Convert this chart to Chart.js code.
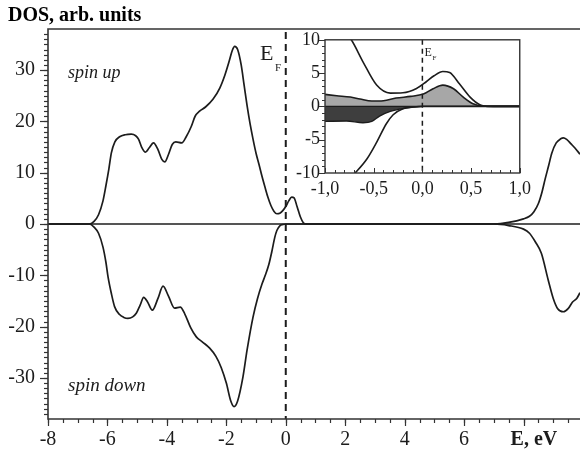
<!DOCTYPE html>
<html>
<head>
<meta charset="utf-8">
<script src="https://cdn.jsdelivr.net/npm/chart.js@4.4.0/dist/chart.umd.min.js"></script>
<style>
  html, body { margin: 0; padding: 0; background: #fff; }
  #wrap { position: relative; width: 580px; height: 459px; }
  #main { position: absolute; left: 0; top: 0; }
  #inset { position: absolute; left: 280px; top: 24px; }
</style>
</head>
<body>
<div id="wrap">
  <canvas id="main" width="580" height="459"></canvas>
  <canvas id="inset" width="256" height="181"></canvas>
</div>
<script>
// main plot: total DOS, spin up (positive) and spin down (negative)
const upEnergy = [-8, -6.6, -6.45, -6.3, -6.15, -6.05, -5.95, -5.87, -5.75, -5.59, -5.4, -5.2, -5.05, -4.95, -4.85, -4.72, -4.6, -4.45, -4.3, -4.17, -4.07, -3.95, -3.82, -3.7, -3.5, -3.35, -3.18, -3.05, -2.9, -2.7, -2.45, -2.22, -2.05, -1.9, -1.8, -1.72, -1.62, -1.5, -1.4, -1.3, -1.2, -1.1, -1.0, -0.9, -0.8, -0.7, -0.6, -0.5, -0.4, -0.3, -0.2, -0.1, 0, 0.1, 0.2, 0.28, 0.38, 0.49, 0.59, 0.7, 7.0, 7.5, 8.0, 8.2, 8.35, 8.5, 8.62, 8.72, 8.85, 8.95, 9.1, 9.25, 9.34, 9.45, 9.6, 9.73, 9.9];
const upDos    = [0, 0, 0.5, 1.8, 4.5, 7.5, 10.8, 13.8, 16, 17, 17.4, 17.5, 17.2, 16.5, 15, 14, 14.8, 15.8, 14.5, 12.6, 12.1, 13.5, 15.5, 16, 15.8, 17, 19, 21, 22, 22.8, 24.3, 26.5, 29, 31.8, 33.8, 34.6, 34, 31, 27, 23, 19.5, 16.5, 13.8, 11.6, 9.3, 7.2, 5.2, 3.6, 2.5, 2.0, 2.1, 2.6, 3.4, 4.5, 5.25, 5.1, 3.4, 1.4, 0.25, 0, 0, 0.3, 1.0, 1.5, 2.4, 4, 6.2, 8.6, 11.5, 13.8, 15.8, 16.6, 16.8, 16.5, 15.6, 14.8, 13.6];
const downEnergy = [-8, -6.6, -6.45, -6.3, -6.15, -6.05, -5.98, -5.87, -5.76, -5.6, -5.45, -5.31, -5.15, -5.03, -4.9, -4.78, -4.65, -4.49, -4.3, -4.13, -3.95, -3.74, -3.55, -3.4, -3.2, -3.01, -2.8, -2.56, -2.35, -2.17, -2.0, -1.85, -1.74, -1.62, -1.44, -1.3, -1.1, -0.95, -0.8, -0.69, -0.57, -0.47, -0.37, -0.3, -0.2, -0.09, 0, 7.0, 7.5, 8.0, 8.2, 8.4, 8.6, 8.83, 9.0, 9.15, 9.34, 9.5, 9.65, 9.79, 9.9];
const downDos    = [0, 0, -0.6, -1.8, -4.5, -7.5, -10.3, -13.5, -16.1, -17.6, -18.2, -18.4, -18.1, -17.4, -15.8, -14.3, -15.2, -16.8, -14.5, -12.1, -14, -16.4, -16.2, -17.5, -20.2, -22, -23, -24.2, -25.8, -28, -31, -34.5, -35.6, -34.5, -29.8, -24.5, -18.1, -14.5, -11.7, -10, -7.9, -5.4, -2.6, -1.26, -0.35, -0.1, 0, 0, -0.3, -1.0, -1.8, -3.5, -5.7, -10.9, -14.5, -16.5, -17.1, -16.5, -15.2, -14.5, -13.4];

const xTickValues = [-8, -6, -4, -2, 0, 2, 4, 6, 8.35];
const xTickLabels = ['-8', '-6', '-4', '-2', '0', '2', '4', '6', 'E, eV'];
const yTickValues = [-30, -20, -10, 0, 10, 20, 30];
const yTickLabels = ['-30', '-20', '-10', '0', '10', '20', '30'];

// inset: zoom around the Fermi level
const insetUpTotalE = [-1.0, -0.85, -0.73, -0.61, -0.47, -0.33, -0.2, -0.06, 0.04, 0.12, 0.21, 0.28, 0.38, 0.49, 0.59, 0.7, 1.0];
const insetUpTotal  = [14, 12, 10, 6.7, 3.2, 2.0, 2.05, 2.7, 3.7, 4.6, 5.25, 5.1, 3.4, 1.4, 0.25, 0, 0];
const insetUpPartE  = [-1.0, -0.88, -0.74, -0.64, -0.52, -0.4, -0.27, -0.12, 0.01, 0.11, 0.21, 0.32, 0.42, 0.52, 0.62, 0.73, 1.0];
const insetUpPart   = [1.8, 1.6, 1.4, 1.1, 0.8, 0.85, 1.25, 1.5, 1.85, 2.65, 3.2, 2.65, 1.4, 0.4, 0.05, 0, 0];
const insetDownPartE = [-1.0, -0.78, -0.61, -0.52, -0.44, -0.33, -0.23, -0.09, 0, 1.0];
const insetDownPart  = [-2.25, -2.2, -2.45, -2.25, -1.45, -0.75, -0.4, -0.1, 0, 0];
const insetDownTotalE = [-1.0, -0.8, -0.69, -0.57, -0.47, -0.37, -0.3, -0.2, -0.09, 0, 1.0];
const insetDownTotal  = [-14.5, -11.7, -10, -7.9, -5.4, -2.6, -1.26, -0.35, -0.1, 0, 0];

const insetXTicks = [-1, -0.5, 0, 0.5, 1];
const insetXLabels = ['-1,0', '-0,5', '0,0', '0,5', '1,0'];
const insetYTicks = [-10, -5, 0, 5, 10];
const insetYLabels = ['-10', '-5', '0', '5', '10'];

const SERIF = "'Liberation Serif', 'DejaVu Serif', serif";
const INK = '#1c1c1c';

const pts = (xs, ys) => xs.map((x, i) => ({ x: x, y: ys[i] }));

function tickRun(ctx, scale, from, to, step, len, horizontal, at) {
  const n = Math.round((to - from) / step);
  for (let k = 0; k <= n; k++) {
    const v = from + k * step;
    const p = Math.round(scale.getPixelForValue(v)) + 0.5;
    ctx.beginPath();
    if (horizontal) { ctx.moveTo(p, at); ctx.lineTo(p, at + len); }
    else { ctx.moveTo(at, p); ctx.lineTo(at + len, p); }
    ctx.stroke();
  }
}

const mainDecor = {
  id: 'mainDecor',
  beforeDatasetsDraw(chart) {
    const { ctx, chartArea: a, scales: { x, y } } = chart;
    ctx.save();
    ctx.strokeStyle = INK;
    ctx.lineWidth = 1.6;
    const y0 = y.getPixelForValue(0);
    ctx.beginPath(); ctx.moveTo(a.left, y0); ctx.lineTo(a.right, y0); ctx.stroke();
    const x0 = x.getPixelForValue(0);
    ctx.lineWidth = 2;
    ctx.setLineDash([7, 5]);
    ctx.beginPath(); ctx.moveTo(x0, a.top + 3); ctx.lineTo(x0, a.bottom); ctx.stroke();
    ctx.restore();
  },
  afterDraw(chart) {
    const { ctx, chartArea: a, scales: { x, y } } = chart;
    ctx.save();
    ctx.strokeStyle = '#333';
    ctx.lineWidth = 1.6;
    ctx.beginPath();
    ctx.moveTo(a.right, a.top); ctx.lineTo(a.left, a.top);
    ctx.lineTo(a.left, a.bottom); ctx.lineTo(a.right, a.bottom);
    ctx.stroke();
    ctx.lineWidth = 1.2;
    tickRun(ctx, x, -8, 9.5, 0.5, 4, true, a.bottom);
    tickRun(ctx, x, -8, 8, 2, 7, true, a.bottom);
    tickRun(ctx, y, -37, 37, 1, -4, false, a.left);
    tickRun(ctx, y, -30, 30, 10, -8, false, a.left);

    ctx.fillStyle = '#000';
    ctx.textBaseline = 'alphabetic';
    ctx.font = 'bold 20px ' + SERIF;
    ctx.fillText('DOS, arb. units', 8, 21);
    ctx.fillStyle = INK;
    ctx.font = 'italic 18px ' + SERIF;
    ctx.fillText('spin up', 68, 78);
    ctx.font = 'italic 19px ' + SERIF;
    ctx.fillText('spin down', 68, 391);
    ctx.font = '22px ' + SERIF;
    ctx.fillText('E', 260, 60);
    ctx.font = '11px ' + SERIF;
    ctx.fillText('F', 275, 71);
    ctx.restore();
  }
};

new Chart(document.getElementById('main'), {
  type: 'line',
  data: {
    datasets: [
      { data: pts(upEnergy, upDos), borderColor: INK, borderWidth: 1.7, pointRadius: 0, cubicInterpolationMode: 'monotone', fill: false },
      { data: pts(downEnergy, downDos), borderColor: INK, borderWidth: 1.7, pointRadius: 0, cubicInterpolationMode: 'monotone', fill: false }
    ]
  },
  options: {
    responsive: false,
    animation: false,
    devicePixelRatio: 1,
    layout: { autoPadding: false, padding: { top: 29, right: 0, left: 0, bottom: 0 } },
    plugins: { legend: { display: false }, tooltip: { enabled: false } },
    scales: {
      x: {
        type: 'linear', min: -8, max: 9.9,
        afterBuildTicks: s => { s.ticks = xTickValues.map(v => ({ value: v })); },
        afterFit: s => { s.height = 40; },
        grid: { display: false, drawTicks: false },
        border: { display: false },
        ticks: {
          padding: 9, color: INK, autoSkip: false, maxRotation: 0,
          font: c => ({ family: SERIF, size: 20, weight: c.index === xTickLabels.length - 1 ? 'bold' : 'normal' }),
          callback: (v, i) => xTickLabels[i]
        }
      },
      y: {
        type: 'linear', min: -38, max: 38,
        afterBuildTicks: s => { s.ticks = yTickValues.map(v => ({ value: v })); },
        afterFit: s => { s.width = 48; },
        grid: { display: false, drawTicks: false },
        border: { display: false },
        ticks: {
          padding: 13, color: INK, autoSkip: false,
          font: { family: SERIF, size: 20 },
          callback: (v, i) => yTickLabels[i]
        }
      }
    }
  },
  plugins: [mainDecor]
});

const insetDecor = {
  id: 'insetDecor',
  beforeDatasetsDraw(chart) {
    const { ctx, chartArea: a } = chart;
    ctx.save();
    ctx.fillStyle = '#fff';
    ctx.fillRect(a.left, a.top, a.right - a.left, a.bottom - a.top);
    ctx.restore();
  },
  afterDatasetsDraw(chart) {
    const { ctx, chartArea: a, scales: { x, y } } = chart;
    ctx.save();
    ctx.strokeStyle = INK;
    ctx.lineWidth = 1.4;
    const y0 = y.getPixelForValue(0);
    ctx.beginPath(); ctx.moveTo(a.left, y0); ctx.lineTo(a.right, y0); ctx.stroke();
    const x0 = x.getPixelForValue(0);
    ctx.lineWidth = 1.5;
    ctx.setLineDash([5, 4]);
    ctx.beginPath(); ctx.moveTo(x0, a.top); ctx.lineTo(x0, a.bottom); ctx.stroke();
    ctx.setLineDash([]);
    ctx.strokeStyle = '#333';
    ctx.lineWidth = 1.4;
    ctx.strokeRect(a.left, a.top, a.right - a.left, a.bottom - a.top);
    ctx.lineWidth = 1;
    tickRun(ctx, x, -1, 1, 0.1, -3, true, a.bottom);
    tickRun(ctx, x, -1, 1, 0.5, -5, true, a.bottom);
    tickRun(ctx, y, -10, 10, 1, -3, false, a.left);
    tickRun(ctx, y, -10, 10, 5, -6, false, a.left);
    ctx.fillStyle = INK;
    ctx.font = '12px ' + SERIF;
    ctx.fillText('E', x0 + 2, a.top + 16);
    ctx.font = '7px ' + SERIF;
    ctx.fillText('F', x0 + 10, a.top + 20);
    ctx.restore();
  }
};

new Chart(document.getElementById('inset'), {
  type: 'line',
  data: {
    datasets: [
      { data: pts(insetUpTotalE, insetUpTotal), borderColor: INK, borderWidth: 1.6, pointRadius: 0, cubicInterpolationMode: 'monotone', fill: false },
      { data: pts(insetDownTotalE, insetDownTotal), borderColor: INK, borderWidth: 1.6, pointRadius: 0, cubicInterpolationMode: 'monotone', fill: false },
      { data: pts(insetUpPartE, insetUpPart), borderColor: INK, borderWidth: 1.6, pointRadius: 0, cubicInterpolationMode: 'monotone', fill: 'origin', backgroundColor: '#a7a7a7' },
      { data: pts(insetDownPartE, insetDownPart), borderColor: INK, borderWidth: 1.4, pointRadius: 0, cubicInterpolationMode: 'monotone', fill: 'origin', backgroundColor: '#3e3e3e' }
    ]
  },
  options: {
    responsive: false,
    animation: false,
    devicePixelRatio: 1,
    layout: { autoPadding: false, padding: { top: 10, right: 10, left: 0, bottom: 0 } },
    plugins: { legend: { display: false }, tooltip: { enabled: false } },
    scales: {
      x: {
        type: 'linear', min: -1, max: 1,
        afterBuildTicks: s => { s.ticks = insetXTicks.map(v => ({ value: v })); },
        afterFit: s => { s.height = 32; },
        grid: { display: false, drawTicks: false },
        border: { display: false },
        ticks: { padding: 5, color: INK, autoSkip: false, maxRotation: 0, font: { family: SERIF, size: 18 }, callback: (v, i) => insetXLabels[i] }
      },
      y: {
        type: 'linear', min: -10, max: 10,
        afterBuildTicks: s => { s.ticks = insetYTicks.map(v => ({ value: v })); },
        afterFit: s => { s.width = 45; },
        grid: { display: false, drawTicks: false },
        border: { display: false },
        ticks: { padding: 5, color: INK, autoSkip: false, font: { family: SERIF, size: 18 }, callback: (v, i) => insetYLabels[i] }
      }
    }
  },
  plugins: [insetDecor]
});
</script>
</body>
</html>
